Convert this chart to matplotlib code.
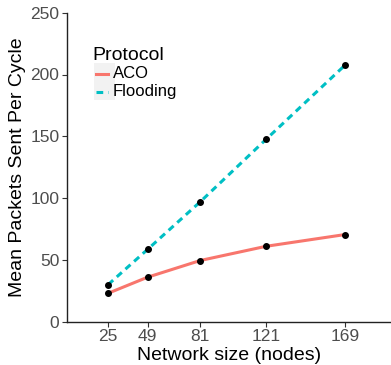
import matplotlib
matplotlib.use('Agg')
import matplotlib.pyplot as plt
from matplotlib.lines import Line2D
from matplotlib.patches import Rectangle

plt.rcParams['font.family'] = ['Liberation Sans', 'DejaVu Sans']

# Mean packets per cycle for each network size
network_sizes = [25, 49, 81, 121, 169]
aco_packets = [23, 36, 49.5, 61, 70.5]
flooding_packets = [30, 58.5, 97, 147.5, 207.5]
protocols = ['ACO', 'Flooding']
colors = ['#F8766D', '#00BFC4']
styles = ['-', (0, (2.2, 1.6))]

W, H = 391, 365
fig = plt.figure(figsize=(W / 100, H / 100), dpi=100)
ax = fig.add_axes([67 / W, 1 - 321.7 / H, 1 - 67 / W, (321.7 - 12.7) / H])

for vals, col, ls in zip([aco_packets, flooding_packets], colors, styles):
    ax.plot(network_sizes, vals, color=col, lw=2.2, ls=ls, zorder=2)
    ax.scatter(network_sizes, vals, color='black', s=16, zorder=3)

ax.set_xlim(0, 197)
ax.set_ylim(0, 250)
ax.set_xticks(network_sizes)
ax.set_yticks([0, 50, 100, 150, 200, 250])
ax.tick_params(labelsize=12.5, labelcolor='#4D4D4D', color='#333333',
               length=3.5, width=0.8, pad=2)
for side in ['top', 'right']:
    ax.spines[side].set_visible(False)
for side in ['left', 'bottom']:
    ax.spines[side].set_linewidth(1.0)
    ax.spines[side].set_color('#222222')
ax.set_xlabel('Network size (nodes)', fontsize=14, labelpad=2)
ax.set_ylabel('Mean Packets Sent Per Cycle', fontsize=14, labelpad=3)

# legend drawn by hand in figure pixel coordinates
def fx(x):
    return x / W

def fy(y):
    return 1 - y / H

fig.text(fx(92), fy(56), 'Protocol', fontsize=14, va='center', ha='left')
fig.add_artist(Rectangle((fx(94), fy(100)), fx(21), 37 / H,
                         transform=fig.transFigure, facecolor='#F2F2F2',
                         edgecolor='none'))
for i, (name, col, ls) in enumerate(zip(protocols, colors, styles)):
    yy = 74 + i * 17.5
    fig.add_artist(Line2D([fx(96), fx(108)], [fy(yy), fy(yy)], color=col,
                          lw=2.2, ls=ls, transform=fig.transFigure))
    fig.text(fx(113), fy(yy), name, fontsize=12, va='center', ha='left')

fig.savefig('out.png', dpi=100)
